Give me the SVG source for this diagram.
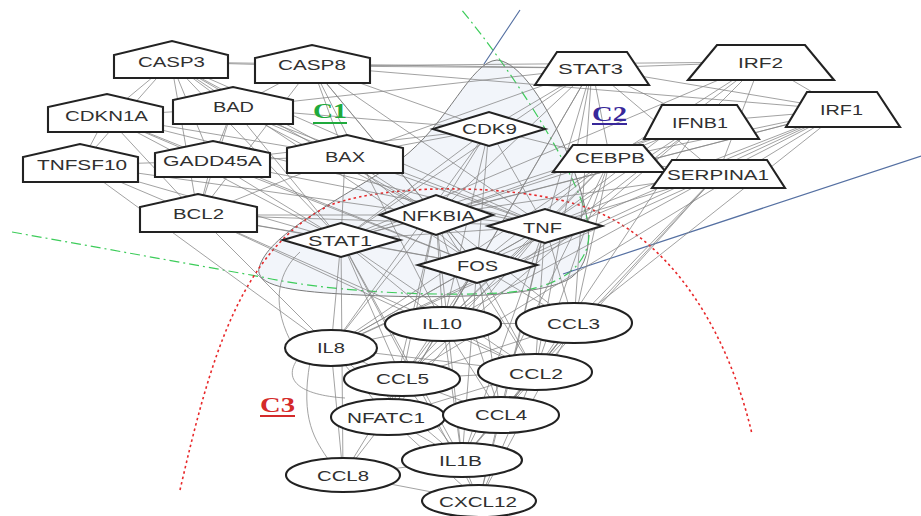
<svg xmlns="http://www.w3.org/2000/svg" width="921" height="516" viewBox="0 0 921 516">
<style>
.bg{fill:#ffffff}
.e line,.e path{stroke:#858585;stroke-width:0.9;fill:none;opacity:0.85}
.n polygon,.n ellipse{fill:#ffffff;stroke:#222222;stroke-width:2.1}
.n text{font-family:"Liberation Sans",Arial,sans-serif;font-size:15px;fill:#303030;text-anchor:middle}
.lab{font-family:"Liberation Serif","Times New Roman",serif;font-size:20px;font-weight:bold}
</style>
<rect class="bg" x="0" y="0" width="921" height="516"/>
<g id="regions">
<path d="M497,60 C520,62 548,105 568,155 C588,205 600,255 572,277 C545,297 440,299 360,295 C300,292 250,288 260,265 C272,232 340,200 400,160 C450,122 470,62 497,60 Z" fill="#f2f5fa" stroke="#7a7a7a" stroke-width="1"/>
<path d="M12,232 L262,277 C320,290 420,297 500,293 C560,290 590,265 589,232 C588,190 520,80 460,8" fill="none" stroke="#3dcc5a" stroke-width="1.2" stroke-dasharray="10,4,2,4"/>
<path d="M520,10 L484,64 M921,156 L563,274" fill="none" stroke="#5570a2" stroke-width="1.2"/>
<path d="M180,490 C210,360 240,250 330,205 C400,180 540,185 600,213 C680,250 730,340 752,434" fill="none" stroke="#e8282a" stroke-width="1.6" stroke-dasharray="2.5,3"/>
</g>
<g id="connectors" class="e">
<line x1="171" y1="62" x2="312" y2="66"/><line x1="171" y1="62" x2="233" y2="108"/><line x1="171" y1="62" x2="345" y2="156"/><line x1="171" y1="62" x2="198" y2="215"/><line x1="171" y1="62" x2="106" y2="116"/><line x1="171" y1="62" x2="212" y2="161"/><line x1="171" y1="62" x2="80" y2="165"/><line x1="171" y1="62" x2="592" y2="68"/><line x1="171" y1="62" x2="436" y2="215"/><line x1="171" y1="62" x2="545" y2="226"/><line x1="171" y1="62" x2="341" y2="240"/><line x1="171" y1="62" x2="477" y2="265"/>
<line x1="312" y1="66" x2="233" y2="108"/><line x1="312" y1="66" x2="345" y2="156"/><line x1="312" y1="66" x2="198" y2="215"/><line x1="312" y1="66" x2="592" y2="68"/><line x1="312" y1="66" x2="545" y2="226"/><line x1="312" y1="66" x2="436" y2="215"/><line x1="312" y1="66" x2="489" y2="129"/><line x1="312" y1="66" x2="843" y2="110"/><line x1="312" y1="66" x2="477" y2="265"/><line x1="312" y1="66" x2="443" y2="324"/><line x1="312" y1="66" x2="761" y2="62"/>
<line x1="106" y1="116" x2="233" y2="108"/><line x1="106" y1="116" x2="212" y2="161"/><line x1="106" y1="116" x2="80" y2="165"/><line x1="106" y1="116" x2="345" y2="156"/><line x1="106" y1="116" x2="341" y2="240"/><line x1="106" y1="116" x2="545" y2="226"/><line x1="106" y1="116" x2="477" y2="265"/><line x1="106" y1="116" x2="198" y2="215"/>
<line x1="233" y1="108" x2="345" y2="156"/><line x1="233" y1="108" x2="198" y2="215"/><line x1="233" y1="108" x2="212" y2="161"/><line x1="233" y1="108" x2="545" y2="226"/><line x1="233" y1="108" x2="436" y2="215"/><line x1="233" y1="108" x2="592" y2="68"/><line x1="233" y1="108" x2="489" y2="129"/><line x1="233" y1="108" x2="341" y2="240"/>
<line x1="80" y1="165" x2="212" y2="161"/><line x1="80" y1="165" x2="198" y2="215"/><line x1="80" y1="165" x2="341" y2="240"/><line x1="80" y1="165" x2="436" y2="215"/><line x1="80" y1="165" x2="331" y2="348"/>
<line x1="212" y1="161" x2="198" y2="215"/><line x1="212" y1="161" x2="345" y2="156"/><line x1="212" y1="161" x2="341" y2="240"/><line x1="212" y1="161" x2="477" y2="265"/><line x1="212" y1="161" x2="545" y2="226"/><line x1="212" y1="161" x2="489" y2="129"/>
<line x1="345" y1="156" x2="198" y2="215"/><line x1="345" y1="156" x2="436" y2="215"/><line x1="345" y1="156" x2="545" y2="226"/><line x1="345" y1="156" x2="341" y2="240"/><line x1="345" y1="156" x2="489" y2="129"/><line x1="345" y1="156" x2="477" y2="265"/><line x1="345" y1="156" x2="592" y2="68"/>
<line x1="198" y1="215" x2="341" y2="240"/><line x1="198" y1="215" x2="436" y2="215"/><line x1="198" y1="215" x2="545" y2="226"/><line x1="198" y1="215" x2="477" y2="265"/><line x1="198" y1="215" x2="443" y2="324"/><line x1="198" y1="215" x2="331" y2="348"/><line x1="198" y1="215" x2="535" y2="372"/>
<line x1="592" y1="68" x2="761" y2="62"/><line x1="592" y1="68" x2="843" y2="110"/><line x1="592" y1="68" x2="701" y2="122"/><line x1="592" y1="68" x2="610" y2="159"/><line x1="592" y1="68" x2="718" y2="174"/><line x1="592" y1="68" x2="545" y2="226"/><line x1="592" y1="68" x2="436" y2="215"/><line x1="592" y1="68" x2="341" y2="240"/><line x1="592" y1="68" x2="477" y2="265"/><line x1="592" y1="68" x2="443" y2="324"/><line x1="592" y1="68" x2="535" y2="372"/><line x1="592" y1="68" x2="489" y2="129"/><line x1="592" y1="68" x2="574" y2="323"/>
<line x1="761" y1="62" x2="843" y2="110"/><line x1="761" y1="62" x2="701" y2="122"/><line x1="761" y1="62" x2="341" y2="240"/><line x1="761" y1="62" x2="610" y2="159"/><line x1="761" y1="62" x2="545" y2="226"/><line x1="761" y1="62" x2="718" y2="174"/>
<line x1="843" y1="110" x2="701" y2="122"/><line x1="843" y1="110" x2="341" y2="240"/><line x1="843" y1="110" x2="610" y2="159"/><line x1="843" y1="110" x2="718" y2="174"/><line x1="843" y1="110" x2="545" y2="226"/><line x1="843" y1="110" x2="436" y2="215"/><line x1="843" y1="110" x2="402" y2="379"/><line x1="843" y1="110" x2="331" y2="348"/><line x1="843" y1="110" x2="477" y2="265"/><line x1="843" y1="110" x2="574" y2="323"/>
<line x1="701" y1="122" x2="341" y2="240"/><line x1="701" y1="122" x2="436" y2="215"/><line x1="701" y1="122" x2="545" y2="226"/><line x1="701" y1="122" x2="610" y2="159"/><line x1="701" y1="122" x2="402" y2="379"/><line x1="701" y1="122" x2="535" y2="372"/><line x1="701" y1="122" x2="443" y2="324"/>
<line x1="610" y1="159" x2="545" y2="226"/><line x1="610" y1="159" x2="436" y2="215"/><line x1="610" y1="159" x2="477" y2="265"/><line x1="610" y1="159" x2="718" y2="174"/><line x1="610" y1="159" x2="331" y2="348"/><line x1="610" y1="159" x2="535" y2="372"/><line x1="610" y1="159" x2="443" y2="324"/><line x1="610" y1="159" x2="574" y2="323"/><line x1="610" y1="159" x2="462" y2="460"/>
<line x1="718" y1="174" x2="545" y2="226"/><line x1="718" y1="174" x2="443" y2="324"/><line x1="718" y1="174" x2="574" y2="323"/><line x1="718" y1="174" x2="331" y2="348"/><line x1="718" y1="174" x2="436" y2="215"/><line x1="718" y1="174" x2="535" y2="372"/><line x1="718" y1="174" x2="501" y2="415"/>
<line x1="489" y1="129" x2="436" y2="215"/><line x1="489" y1="129" x2="545" y2="226"/><line x1="489" y1="129" x2="341" y2="240"/><line x1="489" y1="129" x2="477" y2="265"/><line x1="489" y1="129" x2="331" y2="348"/><line x1="489" y1="129" x2="443" y2="324"/><line x1="489" y1="129" x2="610" y2="159"/>
<line x1="436" y1="215" x2="545" y2="226"/><line x1="436" y1="215" x2="341" y2="240"/><line x1="436" y1="215" x2="477" y2="265"/><line x1="436" y1="215" x2="443" y2="324"/><line x1="436" y1="215" x2="535" y2="372"/><line x1="436" y1="215" x2="331" y2="348"/><line x1="436" y1="215" x2="402" y2="379"/><line x1="436" y1="215" x2="462" y2="460"/><line x1="436" y1="215" x2="574" y2="323"/><line x1="436" y1="215" x2="501" y2="415"/><line x1="436" y1="215" x2="388" y2="417"/>
<line x1="341" y1="240" x2="545" y2="226"/><line x1="341" y1="240" x2="477" y2="265"/><line x1="341" y1="240" x2="443" y2="324"/><line x1="341" y1="240" x2="331" y2="348"/><line x1="341" y1="240" x2="402" y2="379"/><line x1="341" y1="240" x2="535" y2="372"/><line x1="341" y1="240" x2="479" y2="501"/><line x1="341" y1="240" x2="343" y2="475"/><line x1="341" y1="240" x2="462" y2="460"/>
<line x1="545" y1="226" x2="477" y2="265"/><line x1="545" y1="226" x2="443" y2="324"/><line x1="545" y1="226" x2="574" y2="323"/><line x1="545" y1="226" x2="535" y2="372"/><line x1="545" y1="226" x2="402" y2="379"/><line x1="545" y1="226" x2="331" y2="348"/><line x1="545" y1="226" x2="462" y2="460"/><line x1="545" y1="226" x2="501" y2="415"/><line x1="545" y1="226" x2="388" y2="417"/><line x1="545" y1="226" x2="479" y2="501"/>
<line x1="477" y1="265" x2="443" y2="324"/><line x1="477" y1="265" x2="574" y2="323"/><line x1="477" y1="265" x2="535" y2="372"/><line x1="477" y1="265" x2="501" y2="415"/><line x1="477" y1="265" x2="331" y2="348"/><line x1="477" y1="265" x2="388" y2="417"/><line x1="477" y1="265" x2="462" y2="460"/><line x1="477" y1="265" x2="402" y2="379"/>
<line x1="443" y1="324" x2="574" y2="323"/><line x1="443" y1="324" x2="331" y2="348"/><line x1="443" y1="324" x2="402" y2="379"/><line x1="443" y1="324" x2="535" y2="372"/><line x1="443" y1="324" x2="462" y2="460"/><line x1="443" y1="324" x2="501" y2="415"/><line x1="443" y1="324" x2="388" y2="417"/>
<line x1="574" y1="323" x2="535" y2="372"/><line x1="574" y1="323" x2="501" y2="415"/><line x1="574" y1="323" x2="402" y2="379"/><line x1="574" y1="323" x2="462" y2="460"/><line x1="574" y1="323" x2="479" y2="501"/>
<line x1="331" y1="348" x2="402" y2="379"/><line x1="331" y1="348" x2="388" y2="417"/><line x1="331" y1="348" x2="343" y2="475"/><line x1="331" y1="348" x2="462" y2="460"/><line x1="331" y1="348" x2="535" y2="372"/>
<line x1="402" y1="379" x2="535" y2="372"/><line x1="402" y1="379" x2="388" y2="417"/><line x1="402" y1="379" x2="501" y2="415"/><line x1="402" y1="379" x2="462" y2="460"/><line x1="402" y1="379" x2="343" y2="475"/>
<line x1="535" y1="372" x2="501" y2="415"/><line x1="535" y1="372" x2="462" y2="460"/><line x1="535" y1="372" x2="388" y2="417"/><line x1="535" y1="372" x2="479" y2="501"/>
<line x1="388" y1="417" x2="501" y2="415"/><line x1="388" y1="417" x2="462" y2="460"/><line x1="388" y1="417" x2="343" y2="475"/><line x1="388" y1="417" x2="479" y2="501"/>
<line x1="501" y1="415" x2="462" y2="460"/><line x1="501" y1="415" x2="479" y2="501"/><line x1="462" y1="460" x2="479" y2="501"/><line x1="462" y1="460" x2="343" y2="475"/><line x1="343" y1="475" x2="479" y2="501"/>
<path d="M300,356 C280,380 300,395 345,398"/><path d="M290,340 C270,300 280,270 300,252"/><path d="M310,362 C300,420 315,440 330,462"/>
</g>
<g id="node-CASP3" class="n"><polygon points="114,78 114,55 172,41 228,55 228,78"/><text x="171.5" y="67" textLength="67" lengthAdjust="spacingAndGlyphs">CASP3</text></g>
<g id="node-CASP8" class="n"><polygon points="255,83 255,58 312,45 370,58 370,83"/><text x="312" y="70" textLength="68" lengthAdjust="spacingAndGlyphs">CASP8</text></g>
<g id="node-CDKN1A" class="n"><polygon points="48,132 48,107 107,94 163,107 163,132"/><text x="106.5" y="121" textLength="83" lengthAdjust="spacingAndGlyphs">CDKN1A</text></g>
<g id="node-BAD" class="n"><polygon points="173,124 173,100 233,87 293,100 293,124"/><text x="233.5" y="112" textLength="41" lengthAdjust="spacingAndGlyphs">BAD</text></g>
<g id="node-TNFSF10" class="n"><polygon points="23,182 23,157 80,144 138,157 138,182"/><text x="82" y="170" textLength="90" lengthAdjust="spacingAndGlyphs">TNFSF10</text></g>
<g id="node-GADD45A" class="n"><polygon points="155,177 155,153 213,141 270,153 270,177"/><text x="212.5" y="166" textLength="99" lengthAdjust="spacingAndGlyphs">GADD45A</text></g>
<g id="node-BAX" class="n"><polygon points="287,173 287,148 347,135 403,148 403,173"/><text x="345" y="162" textLength="40" lengthAdjust="spacingAndGlyphs">BAX</text></g>
<g id="node-BCL2" class="n"><polygon points="140,232 140,207 198,194 257,207 257,232"/><text x="198.5" y="219" textLength="51" lengthAdjust="spacingAndGlyphs">BCL2</text></g>
<g id="node-STAT3" class="n"><polygon points="557,52 627,52 649,85 535,85"/><text x="590.5" y="74" textLength="65" lengthAdjust="spacingAndGlyphs">STAT3</text></g>
<g id="node-IRF2" class="n"><polygon points="717,45 805,45 834,80 688,80"/><text x="760.5" y="68" textLength="45" lengthAdjust="spacingAndGlyphs">IRF2</text></g>
<g id="node-IRF1" class="n"><polygon points="807,92 877,92 900,127 786,127"/><text x="841.5" y="115" textLength="43" lengthAdjust="spacingAndGlyphs">IRF1</text></g>
<g id="node-IFNB1" class="n"><polygon points="662,105 737,105 759,139 644,139"/><text x="700" y="128" textLength="56" lengthAdjust="spacingAndGlyphs">IFNB1</text></g>
<g id="node-CEBPB" class="n"><polygon points="573,145 643,145 666,172 553,172"/><text x="610" y="163" textLength="70" lengthAdjust="spacingAndGlyphs">CEBPB</text></g>
<g id="node-SERPINA1" class="n"><polygon points="672,160 767,160 785,188 652,188"/><text x="718" y="180" textLength="102" lengthAdjust="spacingAndGlyphs">SERPINA1</text></g>
<g id="node-CDK9" class="n"><polygon points="433,129 489,112 545,129 489,146"/><text x="489.5" y="134" textLength="55" lengthAdjust="spacingAndGlyphs">CDK9</text></g>
<g id="node-NFKBIA" class="n"><polygon points="380,215 436,195 493,215 436,235"/><text x="438.5" y="221" textLength="73" lengthAdjust="spacingAndGlyphs">NFKBIA</text></g>
<g id="node-STAT1" class="n"><polygon points="283,240 341,223 400,240 341,257"/><text x="340" y="246" textLength="64" lengthAdjust="spacingAndGlyphs">STAT1</text></g>
<g id="node-TNF" class="n"><polygon points="488,226 545,209 602,226 545,243"/><text x="542.5" y="233" textLength="39" lengthAdjust="spacingAndGlyphs">TNF</text></g>
<g id="node-FOS" class="n"><polygon points="418,265 477,248 537,265 477,283"/><text x="477.5" y="271" textLength="41" lengthAdjust="spacingAndGlyphs">FOS</text></g>
<g id="node-IL10" class="n"><ellipse cx="443" cy="324" rx="58" ry="17"/><text x="442" y="329" textLength="40" lengthAdjust="spacingAndGlyphs">IL10</text></g>
<g id="node-CCL3" class="n"><ellipse cx="574" cy="323" rx="58" ry="20"/><text x="573.5" y="329" textLength="53" lengthAdjust="spacingAndGlyphs">CCL3</text></g>
<g id="node-IL8" class="n"><ellipse cx="331" cy="348" rx="46" ry="18"/><text x="331" y="353" textLength="28" lengthAdjust="spacingAndGlyphs">IL8</text></g>
<g id="node-CCL5" class="n"><ellipse cx="402" cy="379" rx="58" ry="17"/><text x="402.5" y="384" textLength="53" lengthAdjust="spacingAndGlyphs">CCL5</text></g>
<g id="node-CCL2" class="n"><ellipse cx="535" cy="372" rx="57" ry="18"/><text x="536" y="379" textLength="54" lengthAdjust="spacingAndGlyphs">CCL2</text></g>
<g id="node-NFATC1" class="n"><ellipse cx="388" cy="417" rx="57" ry="18"/><text x="386" y="423" textLength="78" lengthAdjust="spacingAndGlyphs">NFATC1</text></g>
<g id="node-CCL4" class="n"><ellipse cx="501" cy="415" rx="58" ry="18"/><text x="501" y="420" textLength="52" lengthAdjust="spacingAndGlyphs">CCL4</text></g>
<g id="node-IL1B" class="n"><ellipse cx="462" cy="460" rx="60" ry="17"/><text x="460.5" y="466" textLength="43" lengthAdjust="spacingAndGlyphs">IL1B</text></g>
<g id="node-CCL8" class="n"><ellipse cx="343" cy="475" rx="57" ry="17"/><text x="343" y="481" textLength="52" lengthAdjust="spacingAndGlyphs">CCL8</text></g>
<g id="node-CXCL12" class="n"><ellipse cx="479" cy="501" rx="57" ry="16"/><text x="478" y="507" textLength="78" lengthAdjust="spacingAndGlyphs">CXCL12</text></g>
<g id="label-C1"><text class="lab" x="313" y="118" textLength="34" lengthAdjust="spacingAndGlyphs" fill="#1faa3c">C1</text><line x1="313" y1="123" x2="347" y2="123" stroke="#1faa3c" stroke-width="1.8"/></g>
<g id="label-C2"><text class="lab" x="592" y="121" textLength="35" lengthAdjust="spacingAndGlyphs" fill="#38289a">C2</text><line x1="592" y1="124" x2="627" y2="124" stroke="#38289a" stroke-width="1.8"/></g>
<g id="label-C3"><text class="lab" x="260" y="412" textLength="35" lengthAdjust="spacingAndGlyphs" fill="#d42a2a">C3</text><line x1="260" y1="416" x2="295" y2="416" stroke="#d42a2a" stroke-width="1.8"/></g>
</svg>
